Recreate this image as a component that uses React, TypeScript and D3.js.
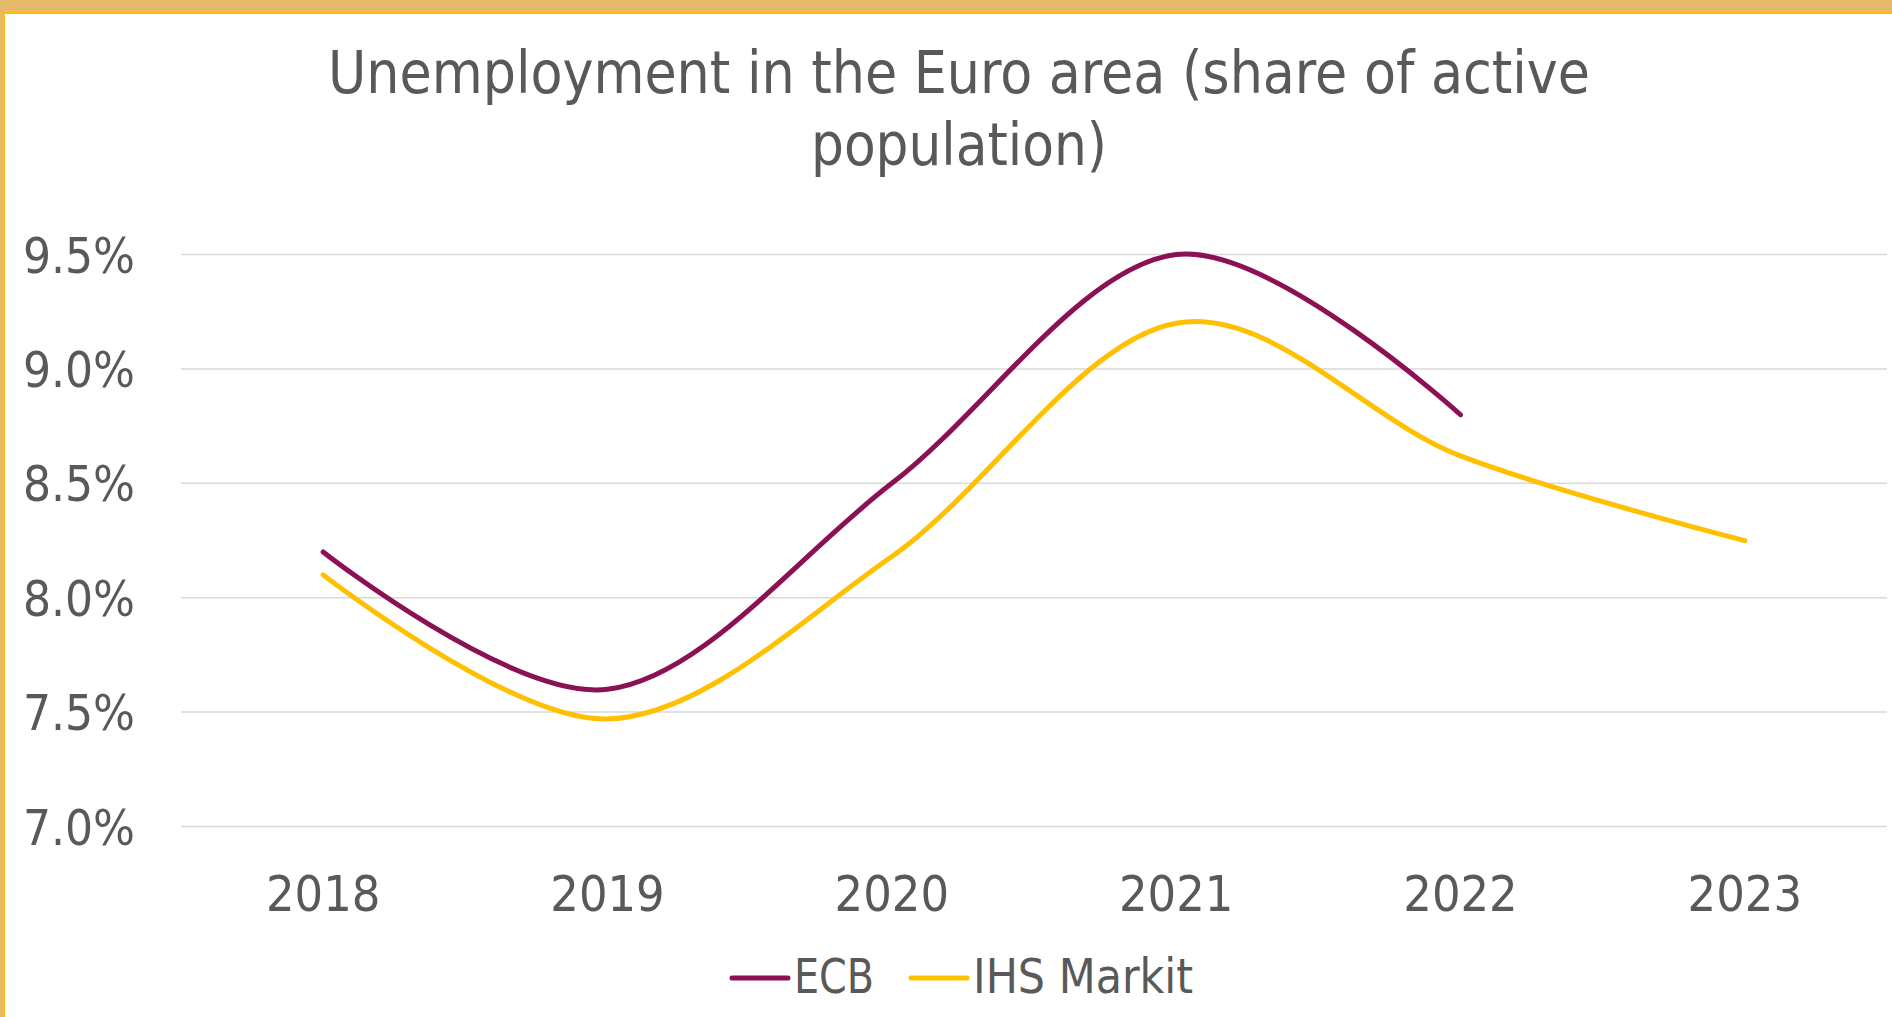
import React from "react";
import * as d3 from "d3";

const years = ["2018", "2019", "2020", "2021", "2022", "2023"];
const ecbValues: (number | null)[] = [8.2, 7.6, 8.5, 9.5, 8.8, null];
const ihsValues: (number | null)[] = [8.1, 7.47, 8.18, 9.2, 8.62, 8.25];
const yTicks = [7.0, 7.5, 8.0, 8.5, 9.0, 9.5];
const titleLines = ["Unemployment in the Euro area (share of active", "population)"];
const seriesNames = ["ECB", "IHS Markit"];
const seriesColors = ["#8C1154", "#FFC000"];

const W = 1892;
const H = 1017;
const FONT = "'DejaVu Sans Condensed', 'DejaVu Sans', sans-serif";
const TEXT = "#595959";

export default function App() {
  const x = d3.scalePoint<string>().domain(years).range([181, 1887]).padding(0.5);
  const y = d3.scaleLinear().domain([7, 9.5]).range([826.5, 254.6]);

  const line = d3
    .line<[string, number | null]>()
    .defined((d) => d[1] !== null)
    .x((d) => x(d[0]) as number)
    .y((d) => y(d[1] as number))
    .curve(d3.curveCardinal.tension(0));

  const series = [ecbValues, ihsValues];

  return (
    <svg
      width={W}
      height={H}
      style={{ position: "absolute", left: 0, top: 0, background: "#fff" }}
    >
      <rect x={0} y={0} width={W} height={H} fill="#fff" />
      {/* frame */}
      <rect x={0} y={0} width={W} height={12} fill="#E6B96A" />
      <rect x={0} y={0} width={3} height={H} fill="#E6B96A" />
      <rect x={3} y={12} width={W - 3} height={2} fill="#FFC000" />
      <rect x={3} y={12} width={2} height={H - 12} fill="#FFC000" />

      {/* title */}
      {titleLines.map((t, i) => (
        <text
          key={i}
          x={959}
          y={93 + i * 72}
          textAnchor="middle"
          fontFamily={FONT}
          fontSize={59}
          fill={TEXT}
          textLength={i === 0 ? 1262 : 296}
          lengthAdjust="spacingAndGlyphs"
        >
          {t}
        </text>
      ))}

      {/* grid */}
      {yTicks.map((t) => (
        <line
          key={t}
          x1={181}
          x2={1887}
          y1={y(t)}
          y2={y(t)}
          stroke="#D9D9D9"
          strokeWidth={1.5}
        />
      ))}

      {/* y labels */}
      {yTicks.map((t) => (
        <text
          key={"l" + t}
          x={135}
          y={y(t) + 18}
          textAnchor="end"
          fontFamily={FONT}
          fontSize={50}
          fill={TEXT}
          textLength={112}
          lengthAdjust="spacingAndGlyphs"
        >
          {d3.format(".1f")(t) + "%"}
        </text>
      ))}

      {/* x labels */}
      {years.map((yr) => (
        <text
          key={yr}
          x={x(yr) as number}
          y={911}
          textAnchor="middle"
          fontFamily={FONT}
          fontSize={50}
          fill={TEXT}
        >
          {yr}
        </text>
      ))}

      {/* lines */}
      {series.map((vals, i) => (
        <path
          key={i}
          d={line(years.map((yr, j) => [yr, vals[j]] as [string, number | null])) || ""}
          fill="none"
          stroke={seriesColors[i]}
          strokeWidth={5}
          strokeLinecap="round"
          strokeLinejoin="round"
        />
      ))}

      {/* legend */}
      {[
        { x1: 732, x2: 788, tx: 794, tl: 80 },
        { x1: 911, x2: 967, tx: 973, tl: 220 },
      ].map((g, i) => (
        <g key={i}>
          <line
            x1={g.x1}
            x2={g.x2}
            y1={978}
            y2={978}
            stroke={seriesColors[i]}
            strokeWidth={5}
            strokeLinecap="round"
          />
          <text
            x={g.tx}
            y={993}
            fontFamily={FONT}
            fontSize={48}
            fill={TEXT}
            textLength={g.tl}
            lengthAdjust="spacingAndGlyphs"
          >
            {seriesNames[i]}
          </text>
        </g>
      ))}
    </svg>
  );
}
